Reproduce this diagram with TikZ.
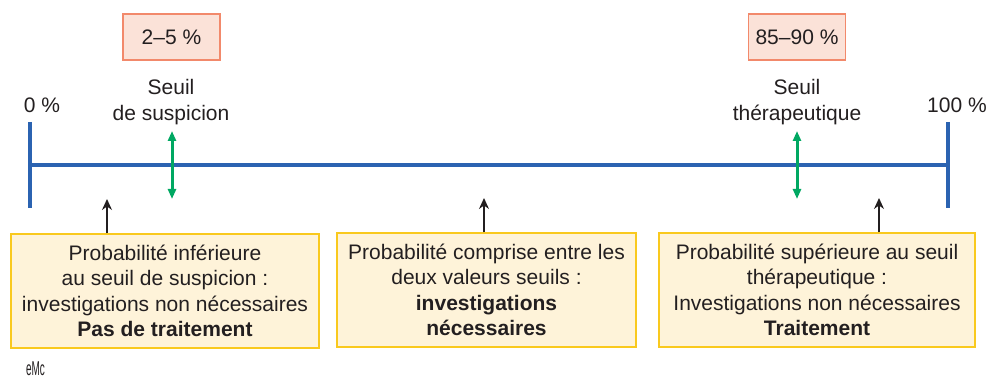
\documentclass[tikz,border=0pt]{standalone}
\usepackage{fontspec}
\setmainfont{Liberation Sans}
\usetikzlibrary{arrows.meta}
\definecolor{txt}{HTML}{231F20}
\definecolor{axisblue}{HTML}{2B63B1}
\definecolor{threshgreen}{HTML}{00A862}
\definecolor{pctfill}{HTML}{FBE2D8}
\definecolor{pctdraw}{HTML}{F2896B}
\definecolor{boxfill}{HTML}{FEF3D9}
\definecolor{boxdraw}{HTML}{F9C91E}
\tikzset{
  axis/.style={draw=axisblue, line width=4pt},
  pctbox/.style={draw=pctdraw, fill=pctfill, line width=1.2pt, minimum width=97pt, minimum height=46pt, inner sep=0pt, font=\fontsize{21}{25}\selectfont, text=txt},
  label/.style={font=\fontsize{21}{25.5}\selectfont, text=txt, align=center, inner sep=0pt},
  infobox/.style={draw=boxdraw, fill=boxfill, line width=1.2pt, inner sep=0pt, align=center, font=\fontsize{21}{25.5}\selectfont, text=txt},
  greenarrow/.style={draw=threshgreen, line width=3pt, {Triangle[length=10pt,width=8pt]}-{Triangle[length=10pt,width=8pt]}},
  blackarrow/.style={draw=txt, line width=1.3pt, -{Stealth[length=11pt,width=10pt]}}
}
\begin{document}
\begin{tikzpicture}[x=1pt,y=-1pt]
\useasboundingbox (0,0) rectangle (988,382);
% axis
\coordinate (a0) at (30,165);
\coordinate (a1) at (948,165);
\draw[axis] (a0) -- (a1);
\draw[axis] (30,122) -- (30,208);
\draw[axis] (948,122) -- (948,208);
% labels
\node[label] (zero) at (42,105) {0 \%};
\node[label] (hundred) at (957,105) {100 \%};
\node[pctbox] (p1) at (171.5,37) {2–5 \%};
\node[pctbox] (p2) at (797,37) {85–90 \%};
\node[label] (s1) at (171,102) {Seuil\\de suspicion};
\node[label] (s2) at (797,102) {Seuil\\thérapeutique};
% green threshold arrows
\coordinate (g1t) at (172,131);
\coordinate (g1b) at (172,199);
\coordinate (g2t) at (797,131);
\coordinate (g2b) at (797,199);
\draw[greenarrow] (g1t) -- (g1b);
\draw[greenarrow] (g2t) -- (g2b);
% bottom boxes
\node[infobox, minimum width=308pt, minimum height=114pt] (b1) at (165,291)
  {Probabilité inférieure\\au seuil de suspicion :\\investigations non nécessaires\\\textbf{Pas de traitement}};
\node[infobox, minimum width=299pt, minimum height=114pt] (b2) at (486.5,290)
  {Probabilité comprise entre les\\deux valeurs seuils :\\\textbf{investigations}\\\textbf{nécessaires}};
\node[infobox, minimum width=316pt, minimum height=114pt] (b3) at (817,290)
  {Probabilité supérieure au seuil\\thérapeutique :\\Investigations non nécessaires\\\textbf{Traitement}};
% black arrows
\coordinate (t1) at (107,199);
\coordinate (t2) at (484,198);
\coordinate (t3) at (879,198);
\draw[blackarrow] (b1.north -| t1) -- (t1);
\draw[blackarrow] (b2.north -| t2) -- (t2);
\draw[blackarrow] (b3.north -| t3) -- (t3);
% logo
\node[text=txt, inner sep=0pt, font=\fontsize{20}{20}\selectfont] (logo) at (35.5,369) {\scalebox{0.5}[1]{eMc}};
\end{tikzpicture}
\end{document}
